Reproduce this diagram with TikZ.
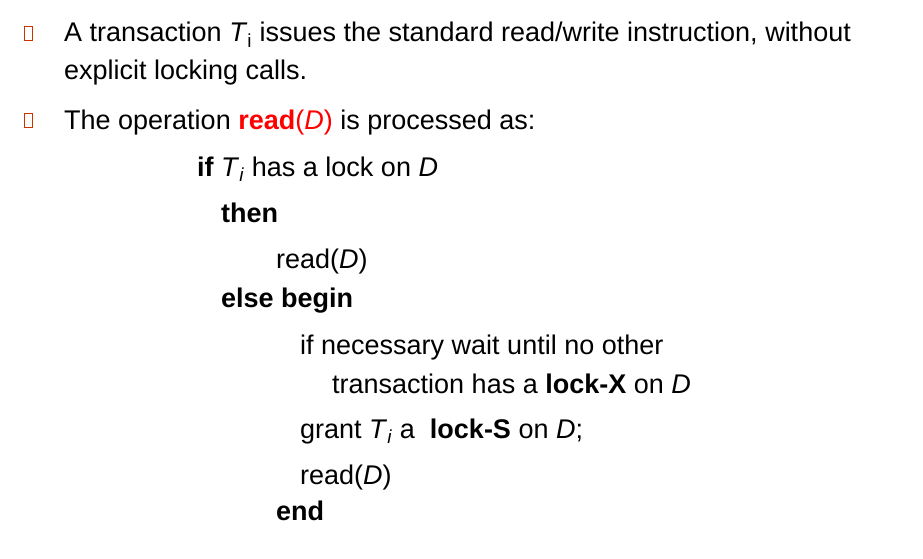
\documentclass[tikz,border=0pt]{standalone}
\usepackage{fontspec}
\setmainfont{Liberation Sans}
\usetikzlibrary{positioning}
\definecolor{bulletred}{HTML}{CC3300}
\tikzset{
    line/.style = {anchor=base west, inner sep=0pt, font=\fontsize{27}{32}\selectfont},
    bulletbox/.style = {rectangle, draw=bulletred, thick, minimum width=8pt, minimum height=14pt, inner sep=0pt},
}
\newcommand{\Kw}[1]{\textbf{#1}}
\newcommand{\Ti}{\textit{T}\textsubscript{\textit{i}}}
\begin{document}
\begin{tikzpicture}[x=1pt,y=-1pt]
\useasboundingbox (0,0) rectangle (923,559);
\node[bulletbox] at (28,33) (b1) {};
\node[bulletbox] at (28,120) (b2) {};
\node[line] at (64,42) (l1) {A transaction \textit{T}\textsubscript{i} issues the standard read/write instruction, without};
\node[line] at (64,80) (l2) {explicit locking calls.};
\node[line] at (64,129) (l3) {The operation \textcolor{red}{\Kw{read}(\textit{D})} is processed as:};
\node[line] at (197,176) (l4) {\Kw{if} \Ti{} has a lock on \textit{D}};
\node[line] at (221,222) (l5) {\Kw{then}};
\node[line] at (276,268) (l6) {read(\textit{D})};
\node[line] at (221,307) (l7) {\Kw{else begin}};
\node[line] at (300,354) (l8) {if necessary wait until no other};
\node[line] at (332,393) (l9) {transaction has a \Kw{lock-X} on \textit{D}};
\node[line] at (300,438) (l10) {grant \Ti{} a \ \Kw{lock-S} on \textit{D};};
\node[line] at (300,484) (l11) {read(\textit{D})};
\node[line] at (276,520) (l12) {\Kw{end}};
\end{tikzpicture}
\end{document}
